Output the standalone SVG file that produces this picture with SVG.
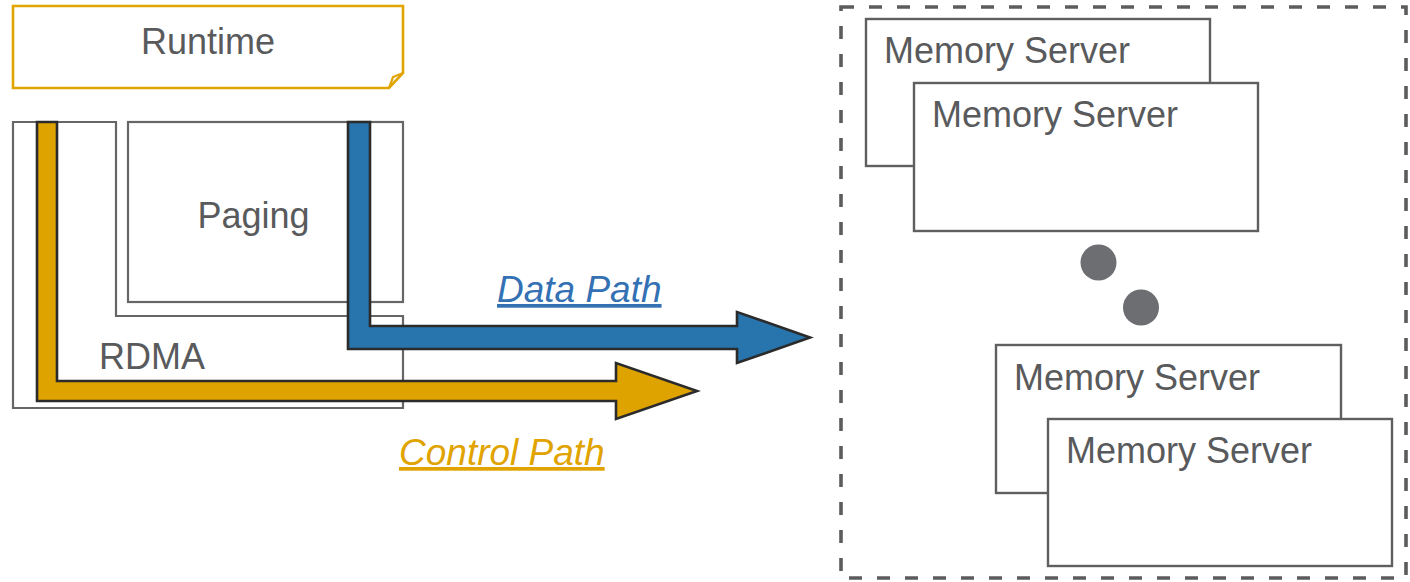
<svg xmlns="http://www.w3.org/2000/svg" width="1410" height="582" viewBox="0 0 1410 582">
  <style>
    .box { fill: #ffffff; stroke: #666666; stroke-width: 2.2; }
    .srv { fill: #ffffff; stroke: #5f5f61; stroke-width: 2.4; }
    .lbl { font-family: "Liberation Sans", Arial, sans-serif; font-size: 36px; fill: #595a5c; }
    .path-lbl { font-family: "Liberation Sans", Arial, sans-serif; font-size: 37px; font-style: italic; text-decoration: underline; }
    .arrow { stroke: #2b2b2b; stroke-width: 2.6; stroke-linejoin: miter; }
    .dot { fill: #6d6e71; }
  </style>

  <g id="memory-pool">
    <rect x="841" y="7" width="565" height="571" fill="none" stroke="#5c5c5e" stroke-width="3.6" stroke-dasharray="13 15"/>
  </g>

  <g id="runtime">
    <path d="M13,6 H403 V73 L389,88 H13 Z" fill="#ffffff" stroke="#E0A500" stroke-width="2.6"/>
    <path d="M403,73 L393,77 L389,88" fill="none" stroke="#E0A500" stroke-width="2.2"/>
    <text class="lbl" x="208" y="54" text-anchor="middle">Runtime</text>
  </g>

  <g id="rdma">
    <path class="box" d="M13,122 H116 V316 H403 V408 H13 Z"/>
    <text class="lbl" x="99" y="369">RDMA</text>
  </g>

  <g id="paging">
    <rect class="box" x="128" y="122" width="275" height="180"/>
    <text class="lbl" x="253.5" y="228" text-anchor="middle">Paging</text>
  </g>

  <g id="server-1">
    <rect class="srv" x="866" y="19" width="344" height="147"/>
    <text class="lbl" x="884" y="63">Memory Server</text>
  </g>
  <g id="server-2">
    <rect class="srv" x="914" y="83" width="344" height="148"/>
    <text class="lbl" x="932" y="127">Memory Server</text>
  </g>
  <g id="ellipsis">
    <circle class="dot" cx="1098.5" cy="262.5" r="18"/>
    <circle class="dot" cx="1141" cy="307.5" r="18"/>
  </g>
  <g id="server-3">
    <rect class="srv" x="996" y="345" width="345" height="148"/>
    <text class="lbl" x="1014" y="390">Memory Server</text>
  </g>
  <g id="server-4">
    <rect class="srv" x="1048" y="419" width="344" height="147"/>
    <text class="lbl" x="1066" y="463">Memory Server</text>
  </g>

  <g id="connectors">
    <path class="arrow" fill="#DFA300" d="M37,122 H57 V381 H616 V363 L697,391 L616,419 V401 H37 Z"/>
    <path class="arrow" fill="#2874AD" d="M348,122 H370 V326 H737 V312 L810,337.5 L737,363 V349 H348 Z"/>
    <text class="path-lbl" x="497" y="302" fill="#3471B4">Data Path</text>
    <text class="path-lbl" x="399" y="465" fill="#E0A300">Control Path</text>
  </g>
</svg>
